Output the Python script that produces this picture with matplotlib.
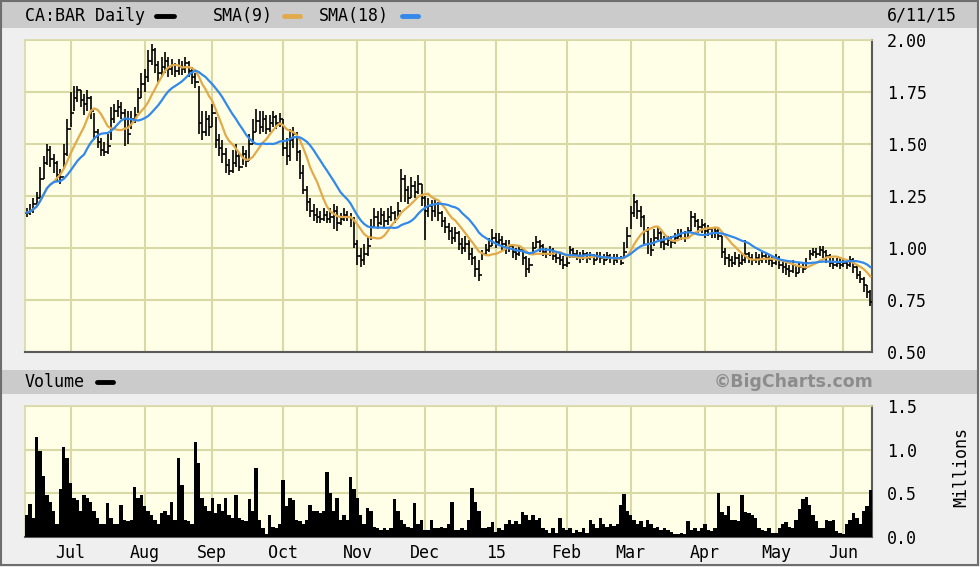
import numpy as np
import pandas as pd
import matplotlib
matplotlib.use("Agg")
import matplotlib.pyplot as plt
from matplotlib.patches import Rectangle
from matplotlib.lines import Line2D

# trading days, TSX holidays removed
holidays = ["2014-07-01", "2014-08-04", "2014-09-01", "2014-10-13", "2014-12-25",
            "2014-12-26", "2015-01-01", "2015-02-16", "2015-04-03", "2015-05-18"]
dates = pd.bdate_range("2014-06-12", "2015-06-11")
dates = dates[~dates.isin(pd.to_datetime(holidays))]

high = [1.19, 1.21, 1.24, 1.27, 1.39, 1.44, 1.50, 1.49, 1.45, 1.42,
        1.38, 1.50, 1.62, 1.75, 1.78, 1.78, 1.76, 1.74, 1.76, 1.73,
        1.65, 1.57, 1.53, 1.51, 1.55, 1.68, 1.69, 1.71, 1.70, 1.67,
        1.66, 1.66, 1.68, 1.77, 1.84, 1.86, 1.95, 1.98, 1.96, 1.90,
        1.92, 1.94, 1.92, 1.91, 1.89, 1.91, 1.90, 1.92, 1.90, 1.87,
        1.84, 1.78, 1.66, 1.66, 1.64, 1.69, 1.63, 1.55, 1.52, 1.48,
        1.43, 1.47, 1.50, 1.46, 1.49, 1.47, 1.55, 1.62, 1.67, 1.66,
        1.66, 1.64, 1.64, 1.66, 1.64, 1.65, 1.62, 1.53, 1.57, 1.58,
        1.56, 1.47, 1.40, 1.30, 1.24, 1.21, 1.19, 1.18, 1.19, 1.18,
        1.19, 1.21, 1.20, 1.17, 1.19, 1.18, 1.17, 1.15, 1.04, 1.00,
        1.02, 1.06, 1.14, 1.19, 1.18, 1.19, 1.18, 1.19, 1.20, 1.18,
        1.22, 1.38, 1.35, 1.30, 1.34, 1.32, 1.35, 1.31, 1.25, 1.24,
        1.23, 1.24, 1.22, 1.18, 1.15, 1.12, 1.10, 1.10, 1.08, 1.05,
        1.06, 1.04, 1.00, 0.96, 0.94, 0.99, 1.02, 1.05, 1.09, 1.07,
        1.07, 1.06, 1.04, 1.04, 1.02, 1.00, 1.01, 1.00, 0.96, 0.95,
        1.03, 1.06, 1.04, 1.02, 1.00, 1.01, 1.00, 0.98, 0.97, 0.96,
        0.96, 1.01, 1.00, 0.99, 0.98, 0.99, 0.98, 0.98, 0.97, 0.98,
        0.98, 0.97, 0.98, 0.97, 0.97, 0.97, 0.96, 1.03, 1.10, 1.20,
        1.26, 1.23, 1.20, 1.16, 1.10, 1.05, 1.09, 1.10, 1.08, 1.06,
        1.06, 1.06, 1.07, 1.09, 1.09, 1.08, 1.10, 1.18, 1.17, 1.14,
        1.14, 1.12, 1.11, 1.10, 1.10, 1.10, 1.06, 1.00, 0.97, 0.96,
        0.98, 0.97, 0.97, 1.04, 0.98, 0.97, 0.98, 0.97, 0.98, 0.98,
        0.97, 0.96, 0.97, 0.96, 0.94, 0.93, 0.92, 0.94, 0.92, 0.93,
        0.93, 0.95, 0.99, 1.00, 1.00, 1.01, 1.01, 0.99, 0.97, 0.95,
        0.95, 0.95, 0.95, 0.94, 0.96, 0.95, 0.92, 0.89, 0.86, 0.82, 0.80]

low = [1.15, 1.16, 1.17, 1.20, 1.24, 1.33, 1.40, 1.39, 1.36, 1.32,
       1.31, 1.38, 1.44, 1.58, 1.66, 1.70, 1.68, 1.64, 1.66, 1.62,
       1.52, 1.48, 1.44, 1.44, 1.45, 1.52, 1.60, 1.63, 1.62, 1.49,
       1.50, 1.57, 1.60, 1.65, 1.72, 1.75, 1.80, 1.88, 1.84, 1.80,
       1.82, 1.84, 1.82, 1.83, 1.82, 1.83, 1.83, 1.84, 1.82, 1.79,
       1.77, 1.55, 1.52, 1.54, 1.54, 1.58, 1.48, 1.44, 1.41, 1.36,
       1.35, 1.36, 1.39, 1.37, 1.40, 1.39, 1.42, 1.50, 1.56, 1.55,
       1.56, 1.55, 1.56, 1.58, 1.57, 1.58, 1.44, 1.40, 1.42, 1.48,
       1.42, 1.33, 1.26, 1.18, 1.15, 1.13, 1.12, 1.12, 1.13, 1.12,
       1.12, 1.09, 1.08, 1.11, 1.13, 1.13, 1.10, 1.00, 0.92, 0.91,
       0.92, 0.96, 1.04, 1.10, 1.09, 1.11, 1.10, 1.11, 1.13, 1.12,
       1.14, 1.22, 1.22, 1.21, 1.24, 1.24, 1.26, 1.20, 1.04, 1.15,
       1.13, 1.15, 1.13, 1.10, 1.07, 1.04, 1.02, 1.03, 0.99, 0.97,
       0.98, 0.94, 0.92, 0.86, 0.84, 0.94, 0.96, 0.98, 1.01, 1.00,
       1.01, 0.99, 0.97, 0.98, 0.95, 0.94, 0.96, 0.92, 0.86, 0.88,
       0.97, 1.00, 0.98, 0.96, 0.95, 0.96, 0.94, 0.93, 0.92, 0.90,
       0.91, 0.95, 0.95, 0.94, 0.93, 0.94, 0.93, 0.94, 0.92, 0.94,
       0.93, 0.92, 0.94, 0.93, 0.92, 0.93, 0.92, 0.95, 1.00, 1.09,
       1.15, 1.14, 1.10, 1.02, 0.97, 0.96, 1.01, 1.04, 1.00, 0.99,
       1.01, 1.00, 1.02, 1.04, 1.04, 1.03, 1.05, 1.08, 1.10, 1.07,
       1.07, 1.05, 1.06, 1.05, 1.05, 1.04, 0.95, 0.92, 0.91, 0.91,
       0.92, 0.91, 0.92, 0.93, 0.93, 0.92, 0.93, 0.92, 0.93, 0.93,
       0.92, 0.91, 0.92, 0.90, 0.88, 0.87, 0.86, 0.88, 0.86, 0.88,
       0.88, 0.90, 0.94, 0.96, 0.95, 0.96, 0.95, 0.93, 0.91, 0.90,
       0.91, 0.90, 0.91, 0.90, 0.91, 0.88, 0.85, 0.83, 0.79, 0.76, 0.72]

close = [1.17, 1.18, 1.21, 1.24, 1.33, 1.41, 1.47, 1.43, 1.41, 1.35,
         1.34, 1.45, 1.57, 1.65, 1.72, 1.76, 1.71, 1.69, 1.72, 1.66,
         1.56, 1.51, 1.47, 1.46, 1.49, 1.62, 1.66, 1.68, 1.65, 1.62,
         1.55, 1.62, 1.64, 1.72, 1.79, 1.82, 1.90, 1.95, 1.88, 1.84,
         1.87, 1.90, 1.86, 1.88, 1.85, 1.87, 1.86, 1.89, 1.85, 1.82,
         1.80, 1.60, 1.56, 1.62, 1.58, 1.65, 1.52, 1.48, 1.45, 1.40,
         1.37, 1.41, 1.44, 1.39, 1.45, 1.42, 1.50, 1.56, 1.61, 1.58,
         1.62, 1.57, 1.60, 1.63, 1.60, 1.62, 1.48, 1.44, 1.52, 1.55,
         1.46, 1.36, 1.28, 1.22, 1.18, 1.16, 1.15, 1.14, 1.16, 1.14,
         1.15, 1.18, 1.12, 1.14, 1.16, 1.15, 1.14, 1.02, 0.96, 0.94,
         0.97, 1.01, 1.10, 1.15, 1.12, 1.16, 1.13, 1.15, 1.17, 1.14,
         1.18, 1.33, 1.28, 1.24, 1.30, 1.27, 1.31, 1.24, 1.18, 1.20,
         1.18, 1.21, 1.17, 1.13, 1.10, 1.08, 1.05, 1.07, 1.02, 1.00,
         1.02, 0.97, 0.95, 0.90, 0.87, 0.97, 0.99, 1.01, 1.05, 1.03,
         1.04, 1.02, 1.00, 1.01, 0.98, 0.97, 0.99, 0.95, 0.90, 0.92,
         1.00, 1.03, 1.01, 0.98, 0.97, 0.99, 0.96, 0.95, 0.94, 0.92,
         0.93, 0.99, 0.97, 0.96, 0.95, 0.97, 0.95, 0.96, 0.94, 0.96,
         0.95, 0.94, 0.96, 0.95, 0.94, 0.95, 0.93, 0.98, 1.06, 1.17,
         1.22, 1.18, 1.15, 1.08, 1.02, 0.99, 1.05, 1.07, 1.03, 1.02,
         1.04, 1.03, 1.05, 1.06, 1.07, 1.05, 1.08, 1.15, 1.13, 1.10,
         1.11, 1.08, 1.09, 1.07, 1.08, 1.06, 0.98, 0.95, 0.94, 0.93,
         0.95, 0.93, 0.94, 0.97, 0.95, 0.94, 0.95, 0.94, 0.96, 0.95,
         0.94, 0.93, 0.95, 0.92, 0.91, 0.90, 0.89, 0.92, 0.88, 0.91,
         0.90, 0.93, 0.97, 0.98, 0.97, 0.99, 0.98, 0.96, 0.93, 0.92,
         0.93, 0.92, 0.93, 0.92, 0.94, 0.91, 0.87, 0.85, 0.82, 0.79, 0.74]

# millions of shares
volume = [0.25, 0.38, 0.22, 1.15, 0.98, 0.70, 0.48, 0.40, 0.30, 0.15,
          0.55, 1.03, 0.90, 0.62, 0.45, 0.42, 0.30, 0.48, 0.45, 0.40,
          0.30, 0.22, 0.15, 0.15, 0.39, 0.22, 0.15, 0.15, 0.37, 0.20,
          0.18, 0.20, 0.57, 0.45, 0.48, 0.35, 0.30, 0.25, 0.20, 0.15,
          0.28, 0.30, 0.25, 0.40, 0.20, 0.90, 0.60, 0.20, 0.18, 0.15,
          1.09, 0.85, 0.45, 0.35, 0.30, 0.45, 0.28, 0.38, 0.30, 0.45,
          0.25, 0.22, 0.48, 0.22, 0.20, 0.18, 0.44, 0.30, 0.79, 0.20,
          0.10, 0.03, 0.25, 0.12, 0.10, 0.15, 0.65, 0.35, 0.45, 0.42,
          0.20, 0.18, 0.15, 0.20, 0.37, 0.30, 0.30, 0.28, 0.30, 0.75,
          0.50, 0.30, 0.45, 0.20, 0.25, 0.20, 0.69, 0.55, 0.45, 0.25,
          0.15, 0.33, 0.30, 0.12, 0.10, 0.08, 0.10, 0.08, 0.10, 0.44,
          0.30, 0.20, 0.15, 0.12, 0.10, 0.39, 0.15, 0.20, 0.08, 0.08,
          0.20, 0.10, 0.10, 0.12, 0.10, 0.15, 0.40, 0.08, 0.08, 0.10,
          0.08, 0.20, 0.56, 0.40, 0.30, 0.10, 0.10, 0.12, 0.17, 0.06,
          0.10, 0.08, 0.15, 0.20, 0.15, 0.18, 0.15, 0.29, 0.25, 0.20,
          0.25, 0.20, 0.22, 0.10, 0.08, 0.05, 0.10, 0.05, 0.22, 0.10,
          0.08, 0.10, 0.05, 0.08, 0.06, 0.10, 0.05, 0.20, 0.15, 0.10,
          0.22, 0.15, 0.12, 0.15, 0.13, 0.15, 0.37, 0.49, 0.30, 0.25,
          0.20, 0.15, 0.18, 0.12, 0.20, 0.15, 0.10, 0.12, 0.08, 0.10,
          0.08, 0.06, 0.04, 0.04, 0.05, 0.04, 0.18, 0.08, 0.10, 0.07,
          0.10, 0.15, 0.08, 0.07, 0.10, 0.50, 0.29, 0.25, 0.35, 0.20,
          0.20, 0.18, 0.48, 0.29, 0.28, 0.25, 0.22, 0.10, 0.08, 0.07,
          0.10, 0.05, 0.05, 0.10, 0.15, 0.17, 0.12, 0.10, 0.20, 0.32,
          0.43, 0.46, 0.37, 0.25, 0.18, 0.10, 0.10, 0.20, 0.18, 0.20,
          0.07, 0.05, 0.04, 0.15, 0.20, 0.28, 0.22, 0.15, 0.30, 0.35, 0.54]

month_labels = ["Jul", "Aug", "Sep", "Oct", "Nov", "Dec", "15", "Feb", "Mar", "Apr", "May", "Jun"]
price_ticks = [0.50, 0.75, 1.00, 1.25, 1.50, 1.75, 2.00]
vol_ticks = [0.0, 0.5, 1.0, 1.5]

plt.rcParams["font.family"] = "DejaVu Sans Mono"

W, H = 980, 567
BG = "#efefef"
BAND = "#cbcbcb"
PLOT_BG = "#ffffe8"
GRID = "#d9d9a6"
EDGE = "#5a5a5a"
SMA9_C = "#e2aa4a"
SMA18_C = "#3389ea"

x = np.arange(len(dates))
cl = pd.Series(close)
sma9 = cl.rolling(9, min_periods=1).mean()
sma18 = cl.rolling(18, min_periods=1).mean()
opn = cl.shift(1).fillna(cl.iloc[0])

# first trading day of each month after the start
months = pd.Series(dates.to_period("M"))
month_pos = [i for i in range(1, len(dates)) if months[i] != months[i - 1]]

fig = plt.figure(figsize=(W / 100, H / 100), dpi=100, facecolor=BG)


def fx(px):
    return px / W


def fy(py):
    return 1 - py / H


def px_axes(x0, y0, x1, y1):
    return fig.add_axes([fx(x0), fy(y1), (x1 - x0) / W, (y1 - y0) / H])


# bands and frame
fig.add_artist(Rectangle((fx(2), fy(28)), fx(975), 26 / H, transform=fig.transFigure,
                         facecolor=BAND, edgecolor="none", zorder=0))
fig.add_artist(Rectangle((fx(2), fy(394)), fx(975), 24 / H, transform=fig.transFigure,
                         facecolor=BAND, edgecolor="none", zorder=0))
fig.add_artist(Rectangle((fx(1), fy(565)), fx(977), 564 / H, transform=fig.transFigure,
                         facecolor="none", edgecolor="#6e6e6e", lw=1.5, zorder=5))

# header legend
fig.text(fx(25), fy(16), "CA:BAR Daily", fontsize=12, va="center", ha="left")
fig.text(fx(213), fy(16), "SMA(9)", fontsize=12, va="center", ha="left")
fig.text(fx(319), fy(16), "SMA(18)", fontsize=12, va="center", ha="left")
fig.text(fx(887), fy(16), "6/11/15", fontsize=12, va="center", ha="left")
for x0, x1, c in [(156, 174, "black"), (284, 300, SMA9_C), (402, 418, SMA18_C)]:
    fig.add_artist(Line2D([fx(x0), fx(x1)], [fy(16), fy(16)], transform=fig.transFigure,
                          color=c, lw=3.5, solid_capstyle="round"))

fig.text(fx(25), fy(382), "Volume", fontsize=12, va="center", ha="left")
fig.add_artist(Line2D([fx(97), fx(113)], [fy(382), fy(382)], transform=fig.transFigure,
                      color="black", lw=3.5, solid_capstyle="round"))
fig.text(fx(873), fy(382), "\u00a9BigCharts.com", fontsize=12.5, fontweight="bold",
         family="DejaVu Sans", color="#8c8c8c", va="center", ha="right")
fig.text(fx(961), fy(467), "Millions", fontsize=12, rotation=90, va="center", ha="center")


def style(ax):
    ax.set_facecolor(PLOT_BG)
    ax.set_xlim(-0.5, len(dates) - 0.5)
    ax.set_xticks(month_pos)
    ax.grid(True, color=GRID, lw=1.5)
    ax.set_axisbelow(True)
    ax.yaxis.tick_right()
    ax.tick_params(length=0, labelsize=12, pad=10.5)
    for s in ["left", "top"]:
        ax.spines[s].set_color(GRID)
        ax.spines[s].set_linewidth(1.2)
    for s in ["right", "bottom"]:
        ax.spines[s].set_color(EDGE)
        ax.spines[s].set_linewidth(1.5)


# price panel
ax = px_axes(25, 40, 872, 352)
style(ax)
ax.set_ylim(0.5, 2.0)
ax.set_yticks(price_ticks)
ax.set_yticklabels([f"{t:.2f}" for t in price_ticks])
ax.set_xticklabels([])
ax.vlines(x, low, high, color="black", lw=1.2, zorder=3)
ax.hlines(close, x, x + 0.5, color="black", lw=1.2, zorder=3)
ax.hlines(opn, x - 0.5, x, color="black", lw=1.2, zorder=3)
ax.plot(x, sma9, color=SMA9_C, lw=1.6, zorder=4)
ax.plot(x, sma18, color=SMA18_C, lw=1.6, zorder=4)

# volume panel
av = px_axes(25, 406, 872, 537)
style(av)
av.set_ylim(0, 1.5)
av.set_yticks(vol_ticks)
av.set_yticklabels([f"{t:.1f}" for t in vol_ticks])
av.set_xticklabels(month_labels)
av.tick_params(axis="x", pad=5)
av.bar(x, volume, width=1.0, color="black", linewidth=0, zorder=3)

fig.savefig("out.png", dpi=100, facecolor=BG)
